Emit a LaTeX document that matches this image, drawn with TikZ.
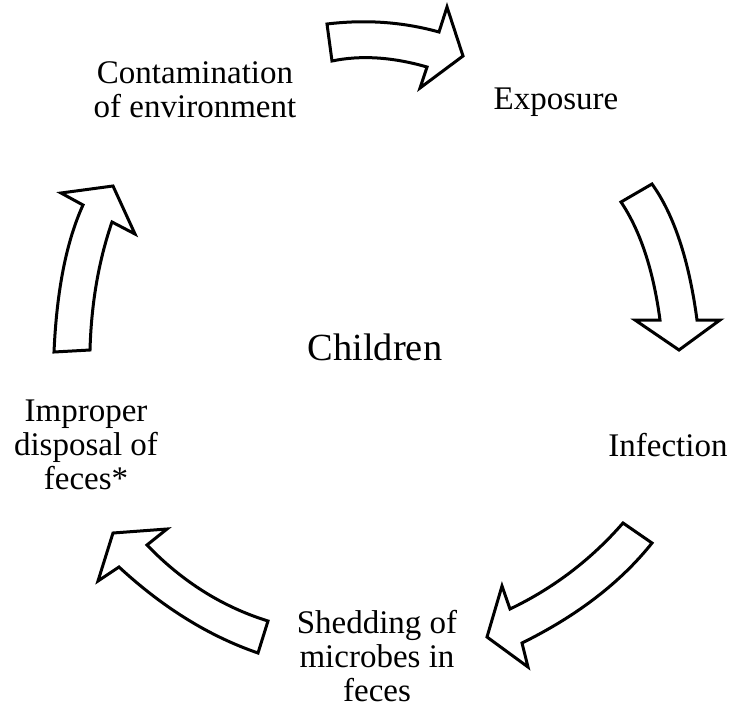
\documentclass[tikz,border=0pt]{standalone}
\usepackage{fontspec}
\setmainfont{Liberation Serif}
\begin{document}
\begin{tikzpicture}[x=0.5bp,y=-0.5bp,
  blockarrow/.style={draw=black,line width=1.5bp,line join=miter,fill=white},
  lbl/.style={align=center,inner sep=0pt,font=\fontsize{16.5bp}{17bp}\selectfont},
  centerlbl/.style={inner sep=0pt,font=\fontsize{19.2bp}{22bp}\selectfont}]
\useasboundingbox[fill=white] (0,0) rectangle (730,708);
% text nodes
\node[lbl] (contam) at (195,90) {Contamination\\of environment};
\node[lbl] (expo) at (556,102) {Exposure};
\node[lbl] (infect) at (668,445) {Infection};
\node[lbl] (shed) at (377,656) {Shedding of\\microbes in\\feces};
\node[lbl] (improper) at (86,445) {Improper\\disposal of\\feces*};
\node[centerlbl] (children) at (375,347) {Children};
% block arrows
\draw[blockarrow] (327,24) .. controls (365.7,19.3) and (403,22) .. (439,32) -- (447,7) -- (463,56)
  -- (420,88) -- (427,67) .. controls (392.3,57) and (360.7,55) .. (332,61) -- cycle;
\draw[blockarrow] (652,184) .. controls (674,214.7) and (689,260) .. (697,320) -- (720,320) -- (679,350)
  -- (635,320) -- (660,320) .. controls (653.3,270) and (640.3,230.7) .. (621,202) -- cycle;
\draw[blockarrow] (623,523) .. controls (591,559.7) and (553.3,588.3) .. (510,609) -- (502,586) -- (487,637)
  -- (528,667) -- (522,643) .. controls (577.3,615.7) and (620.7,582.3) .. (652,543) -- cycle;
\draw[blockarrow] (268,621) .. controls (222.7,607) and (182.3,581.7) .. (147,545) -- (167,529) -- (113,533)
  -- (98,581) -- (119,567) .. controls (163,607.7) and (209.3,636.3) .. (258,653) -- cycle;
\draw[blockarrow] (90,350) .. controls (91.3,303.3) and (98.7,260.7) .. (112,222) -- (135,234) -- (113,186)
  -- (61,193) -- (83,205) .. controls (66.3,241.7) and (56.7,290.7) .. (54,352) -- cycle;
\end{tikzpicture}
\end{document}
